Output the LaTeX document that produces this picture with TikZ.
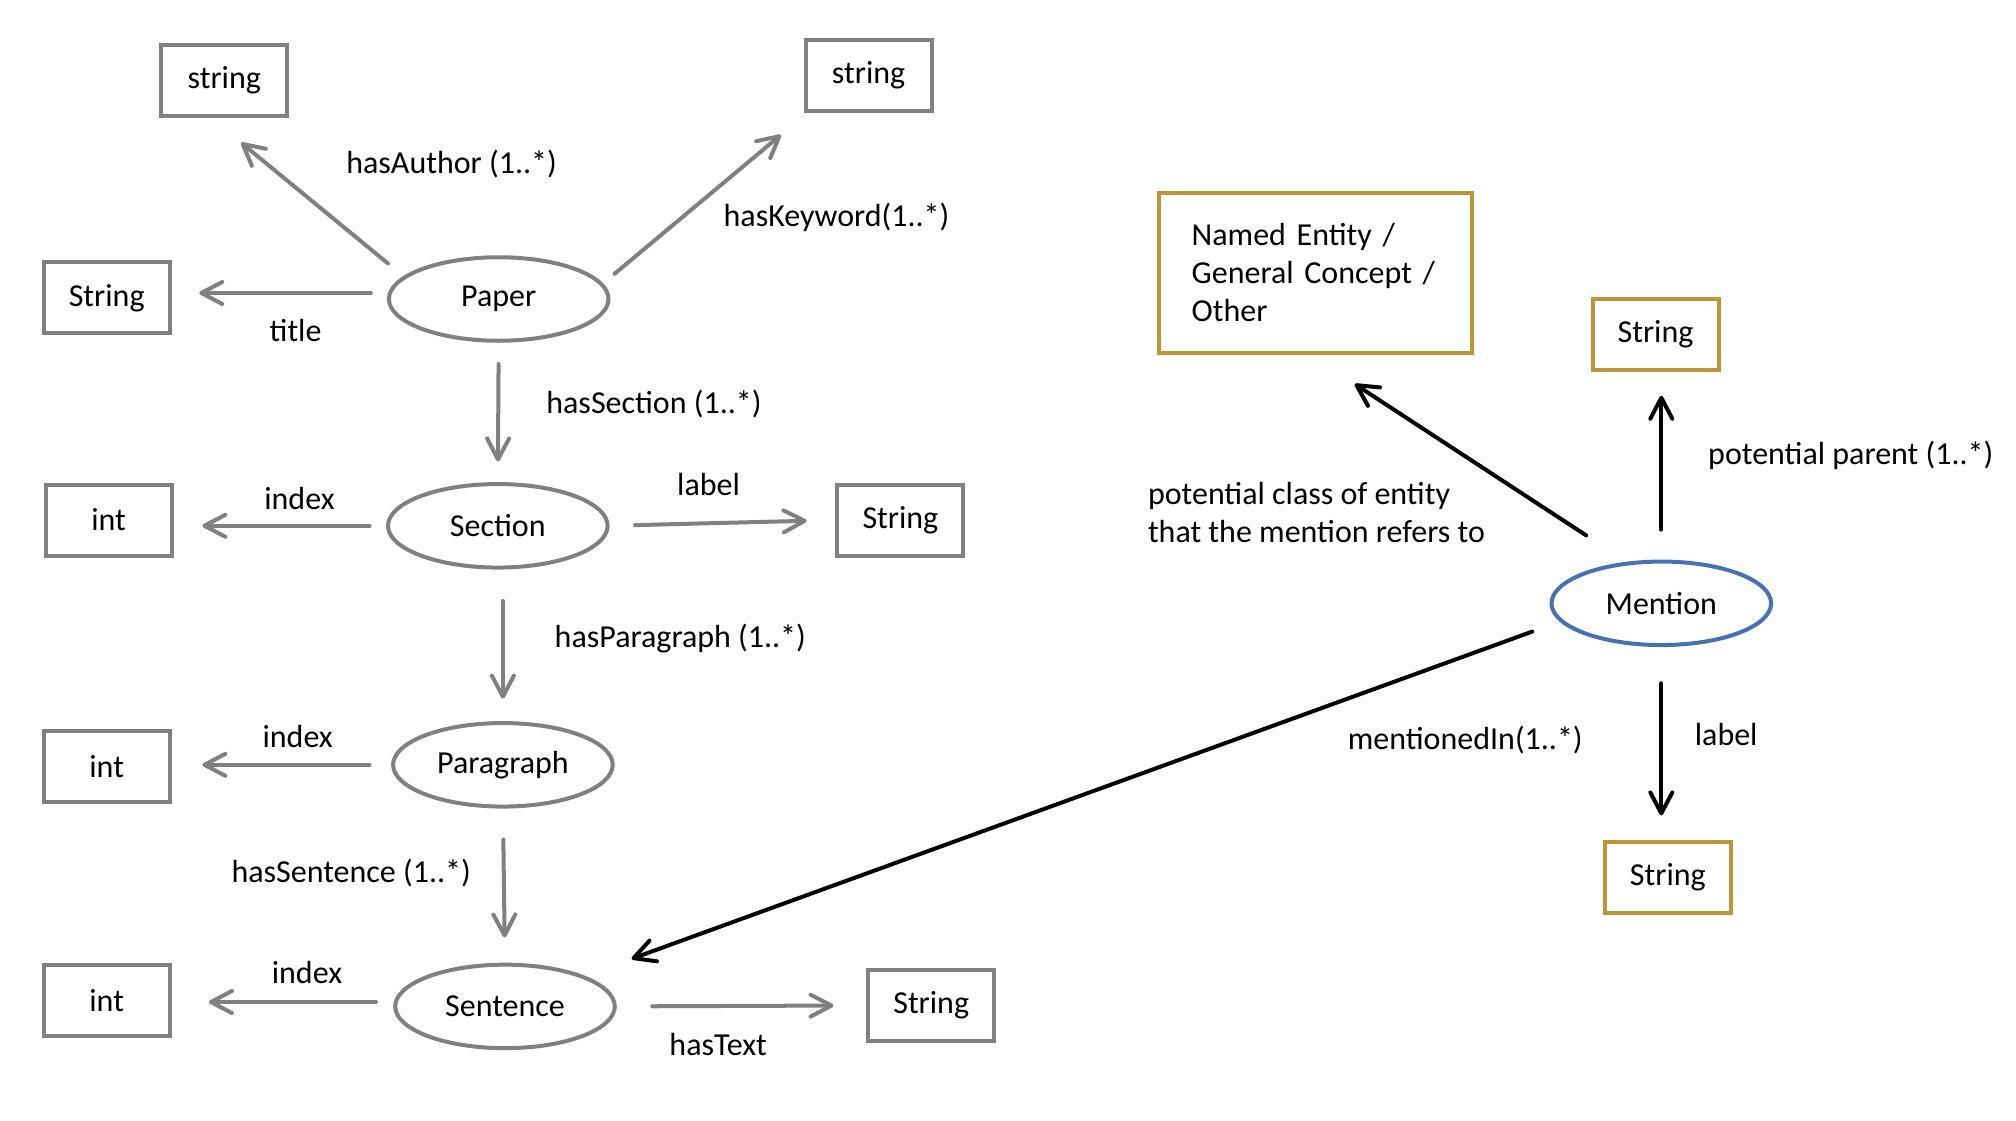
\documentclass[tikz,border=0pt]{standalone}
\usepackage{fontspec}
\setmainfont{Carlito}
\usetikzlibrary{arrows.meta,shapes.geometric,calc}
\definecolor{gcol}{RGB}{128,128,128}
\definecolor{gold}{RGB}{191,148,56}
\definecolor{bcol}{RGB}{70,114,180}
\begin{document}
\begin{tikzpicture}[x=0.5pt,y=-0.5pt,
  font=\fontsize{16pt}{19pt}\selectfont,
  box/.style={draw=gcol, line width=2pt, rectangle, minimum width=63pt, minimum height=35.5pt, inner sep=0pt, outer sep=0pt},
  gbox/.style={box, draw=gold},
  ell/.style={draw=gcol, line width=2pt, ellipse, minimum width=109.8pt, minimum height=41.75pt, inner sep=0pt, outer sep=0pt},
  bell/.style={ell, draw=bcol},
  arr/.style={draw=gcol, line width=2pt, line cap=round, -{Straight Barb[length=10.5pt,width=11pt,round]}},
  barr/.style={arr, draw=black},
  lab/.style={inner sep=0pt, outer sep=0pt}]
\useasboundingbox (0,0) rectangle (2016,1120);
% boxes
\node[box] (s1) at (224.3,80.4) {string};
\node[box] (s2) at (868.6,75.5) {string};
\node[box] (tS) at (106.7,297.9) {String};
\node[box] (i1) at (108.6,520) {int};
\node[box] (lS) at (900.4,520) {String};
\node[box] (i2) at (106.7,766.6) {int};
\node[box] (i3) at (106.7,1000.7) {int};
\node[box] (xS) at (931.2,1005.4) {String};
% ellipses
\node[ell] (paper) at (498.7,299) {Paper};
\node[ell] (sec) at (497.8,525.8) {Section};
\node[ell] (para) at (502.9,764.8) {Paragraph};
\node[ell] (sent) at (505,1006.4) {Sentence};
\node[bell] (men) at (1661.3,603.3) {Mention};
% gold boxes
\node[gbox, minimum width=156.5pt, minimum height=79.8pt, align=left, text width=123.5pt] (ne) at (1315.2,272.9) {Named Entity /\\General Concept /\\Other};
\node[gbox] (pS) at (1655.5,334.3) {String};
\node[gbox] (mS) at (1667.8,877.3) {String};
% gray connectors
\draw[arr, shorten <=9pt, shorten >=14.8pt] ([yshift=3pt]paper.west) -- ([yshift=3pt]paper.west -| tS.east);
\draw[arr, shorten <=10.9pt, shorten >=21.1pt] (paper.167) -- (s1.-114);
\draw[arr, shorten <=8.35pt, shorten >=18.65pt] (paper.8.4) -- (s2.-149.8);
\draw[arr, shorten <=11.6pt, shorten >=11.3pt] (paper.south) -- (sec.north);
\draw[arr, shorten <=9.25pt, shorten >=15.4pt] (sec.west) -- (sec.west -| i1.east);
\draw[arr, shorten <=13.7pt, shorten >=15.4pt] (sec.east) -- (lS.west);
\draw[arr, shorten <=16.7pt, shorten >=12.2pt] (para.north |- sec.south) -- (para.north);
\draw[arr, shorten <=11.8pt, shorten >=16.35pt] (para.west) -- (para.west -| i2.east);
\draw[arr, shorten <=16.5pt, shorten >=13.6pt] (para.south) -- (sent.north);
\draw[arr, shorten <=9.6pt, shorten >=19.6pt] ([yshift=2.2pt]sent.west) -- ([yshift=2.2pt]sent.west -| i3.east);
\draw[arr, shorten <=18.75pt, shorten >=17.35pt] (sent.east) -- (xS.west);
% black connectors
\draw[barr, shorten <=25.6pt, shorten >=28.65pt] (men.129) -- (ne.-96);
\draw[barr, shorten <=16pt, shorten >=12.95pt] (men.north) -- (men.north |- pS.south);
\draw[barr, shorten <=15.65pt, shorten >=26.25pt] (men.-170.5) -- (sent.21.9);
\draw[barr, shorten <=19.1pt, shorten >=13.2pt] (men.south) -- (men.south |- mS.north);
% labels
\node[lab] (lA) at (451.6,164) {hasAuthor (1..*)};
\node[lab] (lK) at (836.5,217.8) {hasKeyword(1..*)};
\node[lab] (lT) at (295.6,330) {title};
\node[lab] (lSe) at (654,403.6) {hasSection (1..*)};
\node[lab] (lI1) at (299.5,498) {index};
\node[lab] (lL) at (708.6,484) {label};
\node[lab] (lP) at (680.3,638.6) {hasParagraph (1..*)};
\node[lab] (lI2) at (297.7,736.8) {index};
\node[lab] (lSn) at (351.2,873.4) {hasSentence (1..*)};
\node[lab] (lI3) at (307,972.5) {index};
\node[lab] (lX) at (718.2,1044.8) {hasText};
\node[lab] (lM) at (1465.3,739.5) {mentionedIn(1..*)};
\node[lab] (lML) at (1726.2,734) {label};
\node[lab] (lPP) at (1850.8,455.4) {potential parent (1..*)};
\node[lab, anchor=west, align=left] (lC) at (1148,512) {potential class of entity\\that the mention refers to};
\end{tikzpicture}
\end{document}
